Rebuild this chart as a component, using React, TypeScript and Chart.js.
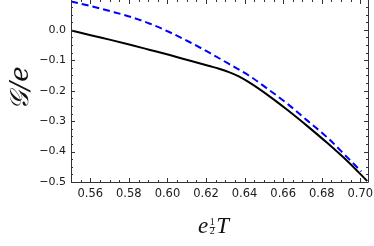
import React, { useEffect, useRef } from "react";
import { Chart, registerables } from "chart.js";

Chart.register(...registerables);

const T_SOLID = [0.55, 0.5602, 0.5705, 0.5807, 0.591, 0.6012, 0.6114, 0.6217, 0.6268, 0.6319, 0.637, 0.6422, 0.6524, 0.6626, 0.6729, 0.6831, 0.6934, 0.7036];
const G_SOLID = [-0.002, -0.018, -0.033, -0.049, -0.066, -0.083, -0.101, -0.119, -0.128, -0.139, -0.153, -0.172, -0.216, -0.265, -0.318, -0.373, -0.432, -0.497];

const T_DASHED = [0.55, 0.5602, 0.5705, 0.5807, 0.591, 0.6012, 0.6114, 0.6217, 0.6319, 0.6422, 0.6524, 0.6626, 0.6729, 0.6831, 0.6934, 0.7005];
const G_DASHED = [0.093, 0.078, 0.061, 0.043, 0.020, -0.008, -0.040, -0.075, -0.112, -0.150, -0.196, -0.245, -0.300, -0.355, -0.420, -0.465];

const X_TICKS = [0.56, 0.58, 0.6, 0.62, 0.64, 0.66, 0.68, 0.7];
const Y_TICKS = [-0.5, -0.4, -0.3, -0.2, -0.1, 0.0];
const X_MINOR_STEP = 0.005;
const Y_MINOR_STEP = 0.025;

const X_MIN = 0.55;
const X_MAX = 0.704;
const Y_MIN = -0.5;
const Y_MAX = 0.098;

const framePlugin = {
  id: "frame",
  afterDraw(chart: any) {
    const { ctx, chartArea: a, scales } = chart;
    const xs = scales.x;
    const ys = scales.y;
    ctx.save();
    ctx.strokeStyle = "#333";
    ctx.lineWidth = 1;
    ctx.beginPath();
    ctx.moveTo(a.left + 0.5, a.top);
    ctx.lineTo(a.left + 0.5, a.bottom + 0.5);
    ctx.lineTo(a.right + 0.5, a.bottom + 0.5);
    ctx.lineTo(a.right + 0.5, a.top);
    ctx.stroke();
    const drawX = (v: number, len: number) => {
      const p = Math.round(xs.getPixelForValue(v)) + 0.5;
      ctx.beginPath();
      ctx.moveTo(p, a.bottom);
      ctx.lineTo(p, a.bottom - len);
      ctx.moveTo(p, a.top);
      ctx.lineTo(p, a.top + len);
      ctx.stroke();
    };
    const drawY = (v: number, len: number) => {
      const p = Math.round(ys.getPixelForValue(v)) + 0.5;
      ctx.beginPath();
      ctx.moveTo(a.left, p);
      ctx.lineTo(a.left + len, p);
      ctx.moveTo(a.right, p);
      ctx.lineTo(a.right - len, p);
      ctx.stroke();
    };
    for (let i = 0; ; i++) {
      const v = X_MIN + i * X_MINOR_STEP;
      if (v > X_MAX + 1e-9) break;
      const major = X_TICKS.some((t) => Math.abs(t - v) < 1e-6);
      drawX(v, major ? 4 : 2);
    }
    for (let i = 0; ; i++) {
      const v = Y_MIN + i * Y_MINOR_STEP;
      if (v > Y_MAX + 1e-9) break;
      const major = Y_TICKS.some((t) => Math.abs(t - v) < 1e-6);
      drawY(v, major ? 4 : 2);
    }
    // x title: e^{1/2} T
    ctx.fillStyle = "#111";
    ctx.textBaseline = "alphabetic";
    ctx.textAlign = "left";
    const base = 233;
    let x = 198;
    ctx.font = "italic 23px 'Liberation Serif', 'DejaVu Serif', serif";
    ctx.fillText("e", x, base);
    x += ctx.measureText("e").width + 1;
    ctx.font = "10px 'Liberation Serif', 'DejaVu Serif', serif";
    ctx.textAlign = "center";
    ctx.fillText("1", x + 3, 225);
    ctx.fillText("2", x + 3, 234);
    ctx.beginPath();
    ctx.moveTo(x + 0.5, 227.5);
    ctx.lineTo(x + 6, 227.5);
    ctx.lineWidth = 0.8;
    ctx.strokeStyle = "#111";
    ctx.stroke();
    ctx.textAlign = "left";
    x += 7;
    ctx.font = "italic 23px 'Liberation Serif', 'DejaVu Serif', serif";
    ctx.fillText("T", x, base);
    // y title
    ctx.save();
    ctx.translate(28, 88);
    ctx.rotate(-Math.PI / 2);
    ctx.textAlign = "center";
    ctx.font = "italic 26px 'DejaVu Serif', 'Liberation Serif', serif";
    ctx.fillText("\u{1D4A2}/e", 0, 0);
    ctx.restore();
    ctx.restore();
  },
};

export default function App() {
  const ref = useRef<HTMLCanvasElement>(null);
  useEffect(() => {
    const canvas = ref.current;
    if (!canvas) return;
    const chart = new Chart(canvas, {
      type: "line",
      data: {
        datasets: [
          {
            data: T_SOLID.map((t, i) => ({ x: t, y: G_SOLID[i] })),
            borderColor: "#000000",
            borderWidth: 2,
            pointRadius: 0,
            cubicInterpolationMode: "monotone",
          },
          {
            data: T_DASHED.map((t, i) => ({ x: t, y: G_DASHED[i] })),
            borderColor: "#0000ff",
            borderWidth: 2,
            borderDash: [7, 4],
            pointRadius: 0,
            cubicInterpolationMode: "monotone",
          },
        ],
      },
      options: {
        animation: false,
        responsive: false,
        layout: { padding: { top: 0, right: 6, left: 0, bottom: 0 } },
        plugins: { legend: { display: false }, tooltip: { enabled: false } },
        scales: {
          x: {
            type: "linear",
            min: X_MIN,
            max: X_MAX,
            grid: { display: false, drawTicks: false },
            border: { display: false },
            afterBuildTicks: (s: any) => {
              s.ticks = X_TICKS.map((v) => ({ value: v }));
            },
            afterFit: (s: any) => {
              s.height = 64;
              s.paddingLeft = 0;
              s.paddingRight = 0;
            },
            ticks: {
              padding: 5,
              color: "#1a1a1a",
              font: { family: "'DejaVu Sans'", size: 11.5 },
              maxRotation: 0,
              autoSkip: false,
              callback: (v: any) => Number(v).toFixed(2),
            },
          },
          y: {
            type: "linear",
            min: Y_MIN,
            max: Y_MAX,
            grid: { display: false, drawTicks: false },
            border: { display: false },
            afterBuildTicks: (s: any) => {
              s.ticks = Y_TICKS.map((v) => ({ value: v }));
            },
            afterFit: (s: any) => {
              s.width = 71;
              s.paddingTop = 0;
              s.paddingBottom = 0;
            },
            ticks: {
              padding: 5,
              color: "#1a1a1a",
              font: { family: "'DejaVu Sans'", size: 11 },
              autoSkip: false,
              callback: (v: any) => {
                const n = Number(v);
                const s = Math.abs(n).toFixed(1);
                return n < -1e-9 ? "\u2212" + s : s;
              },
            },
          },
        },
      },
      plugins: [framePlugin],
    } as any);
    return () => chart.destroy();
  }, []);
  return (
    <div style={{ position: "fixed", left: 0, top: 0, width: 374, height: 246, background: "#fff" }}>
      <canvas ref={ref} width={374} height={246} style={{ display: "block" }} />
    </div>
  );
}
